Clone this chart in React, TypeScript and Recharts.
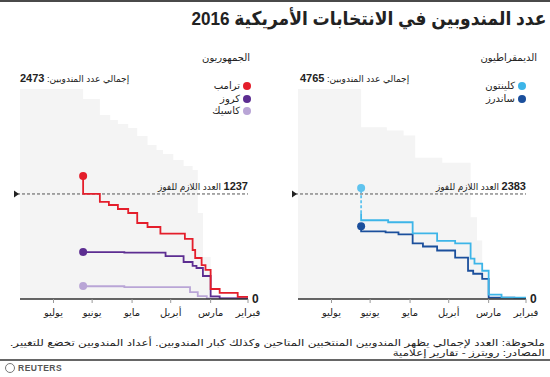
import React from "react";
import { ComposedChart, Area, Line, XAxis, YAxis, ReferenceLine } from "recharts";

// أيام منذ 1 فبراير 2016
const monthTicks = [0, 29, 60, 90, 121, 151];
const monthNames = ["فبراير", "مارس", "أبريل", "مايو", "يونيو", "يوليو"];
const dayMax = 177;

// الجمهوريون
const repTotal = 2473;
const repNeeded = 1237;
const repGreyDays = [0, 29, 35, 39, 43, 50, 58, 66, 71, 78, 86, 93, 101, 107, 115, 128, 177];
const repGreyVals = [0, 495, 1013, 1520, 1567, 1637, 1708, 1755, 1814, 1920, 2014, 2061, 2108, 2167, 2355, 2473, 2473];
const trumpDays = [0, 8, 22, 29, 33, 36, 41, 43, 49, 68, 78, 86, 93, 101, 108, 115, 128];
const trumpVals = [24, 71, 118, 342, 400, 483, 577, 707, 770, 848, 895, 1013, 1060, 1107, 1143, 1237, 1449];
const cruzDays = [0, 22, 29, 35, 40, 43, 50, 64, 96, 128];
const cruzVals = [8, 30, 271, 365, 389, 436, 506, 545, 553, 553];
const kasichDays = [0, 32, 39, 45, 96, 128];
const kasichVals = [8, 35, 82, 141, 150, 153];

// الديمقراطيون
const demTotal = 4765;
const demNeeded = 2383;
const demGreyDays = [0, 30, 34, 38, 43, 65, 86, 95, 108, 128, 177];
const demGreyVals = [0, 641, 1329, 1856, 3093, 3207, 3711, 3826, 3895, 4765, 4765];
const clintonDays = [0, 19, 29, 34, 40, 43, 55, 69, 88, 107, 128];
const clintonVals = [30, 100, 641, 802, 916, 1260, 1320, 1489, 1741, 1787, 1947];
const clintonSuperDays = [128, 128];
const clintonSuperVals = [1947, 2520];
const sandersDays = [0, 9, 29, 34, 41, 45, 55, 69, 80, 88, 99, 109, 128];
const sandersVals = [5, 30, 458, 573, 641, 939, 1100, 1191, 1260, 1466, 1512, 1535, 1650];

const FONT = 'Arial, "Liberation Sans", "DejaVu Sans", sans-serif';

const zip = (days: number[], vals: number[]) => days.map((d, i) => ({ day: d, v: vals[i] }));

const MonthTick = (props: any) => {
  const { x, y, payload } = props;
  const i = monthTicks.indexOf(payload.value);
  return (
    <text x={x} y={y} dy={11} textAnchor="middle" fontSize={10} fill="#222" fontFamily={FONT}>
      {monthNames[i]}
    </text>
  );
};

const ZeroTick = (props: any) => {
  const { x, y } = props;
  return (
    <text x={x} y={y} dx={-4} dy={4} textAnchor="start" fontSize={12} fontWeight="bold" fill="#222" fontFamily={FONT}>
      0
    </text>
  );
};

const endDot = (color: string, last: number) => (props: any) => {
  const { cx, cy, index } = props;
  if (index !== last) return <g key={`d-${index}`} />;
  return <circle key={`d-${index}`} cx={cx} cy={cy} r={4} fill={color} stroke="none" />;
};

const neededShape = (needed: number) => (props: any) => {
  const { x1, x2, y1 } = props;
  const xs = Math.min(x1, x2) - 3;
  const xe = Math.max(x1, x2);
  return (
    <g>
      <line x1={xs} y1={y1} x2={xe} y2={y1} stroke="#555" strokeDasharray="3 2" strokeWidth={1} />
      <path d={`M${xs - 3},${y1 - 3.5} L${xs + 2},${y1} L${xs - 3},${y1 + 3.5} Z`} fill="#222" />
      <text x={xe} y={y1 - 4} textAnchor="end" fontSize={11} fontWeight="bold" fill="#222" fontFamily={FONT}>
        {needed}
      </text>
      <text x={xe - 27} y={y1 - 4} textAnchor="end" fontSize={9} fill="#222" fontFamily={FONT}>
        العدد اللازم للفوز
      </text>
    </g>
  );
};

interface Series {
  name: string;
  color: string;
  data: { day: number; v: number }[];
  dash?: boolean;
  noDot?: boolean;
}

interface PanelProps {
  total: number;
  needed: number;
  grey: { day: number; v: number }[];
  series: Series[];
  marginLeft: number;
  marginRight: number;
}

const Panel = ({ total, needed, grey, series, marginLeft, marginRight }: PanelProps) => (
  <ComposedChart
    width={275}
    height={330}
    margin={{ top: 89, right: marginRight, bottom: 6, left: marginLeft }}
  >
    <XAxis
      type="number"
      dataKey="day"
      domain={[0, dayMax]}
      reversed
      allowDataOverflow
      ticks={monthTicks}
      tick={<MonthTick />}
      tickSize={4}
      height={25}
      axisLine={{ stroke: "#333", strokeWidth: 1.5 }}
      tickLine={{ stroke: "#999" }}
    />
    <YAxis
      orientation="right"
      type="number"
      domain={[0, total]}
      ticks={[0]}
      width={20}
      axisLine={false}
      tickLine={false}
      tick={<ZeroTick />}
      allowDataOverflow
    />
    <Area
      data={grey}
      dataKey="v"
      type="stepAfter"
      fill="#f4f4f4"
      fillOpacity={1}
      stroke="none"
      isAnimationActive={false}
    />
    <ReferenceLine y={needed} shape={neededShape(needed)} />
    {series.map((s) => (
      <Line
        key={s.name + (s.dash ? "-d" : "")}
        data={s.data}
        dataKey="v"
        name={s.name}
        type={s.dash ? "linear" : "stepAfter"}
        stroke={s.color}
        strokeWidth={1.8}
        strokeDasharray={s.dash ? "3 2" : undefined}
        dot={s.noDot ? false : endDot(s.color, s.data.length - 1)}
        activeDot={false}
        isAnimationActive={false}
      />
    ))}
  </ComposedChart>
);

const LegendBox = ({ items, right }: { items: { name: string; color: string }[]; right: number }) => (
  <div style={{ position: "absolute", top: 80, right, fontSize: 10, lineHeight: "12.5px" }}>
    {items.map((it) => (
      <div key={it.name} dir="rtl" style={{ display: "flex", alignItems: "center", gap: 3 }}>
        <span style={{ width: 8, height: 8, borderRadius: 4, background: it.color, display: "inline-block" }} />
        <span>{it.name}</span>
      </div>
    ))}
  </div>
);

const App = () => {
  const repSeries: Series[] = [
    { name: "كاسيك", color: "#b9a5d6", data: zip(kasichDays, kasichVals) },
    { name: "كروز", color: "#5c2d91", data: zip(cruzDays, cruzVals) },
    { name: "ترامب", color: "#e41e2b", data: zip(trumpDays, trumpVals) },
  ];
  const demSeries: Series[] = [
    { name: "ساندرز", color: "#1b4f9c", data: zip(sandersDays, sandersVals) },
    { name: "كلينتون", color: "#3db5e8", data: zip(clintonDays, clintonVals), noDot: true },
    { name: "كلينتون", color: "#5fc3ee", data: zip(clintonSuperDays, clintonSuperVals), dash: true },
  ];
  return (
    <div
      style={{
        position: "absolute",
        left: 0,
        top: 0,
        width: 550,
        height: 377,
        background: "#fff",
        fontFamily: FONT,
        color: "#222",
        overflow: "hidden",
      }}
    >
      <div style={{ position: "absolute", left: 0, top: 0, width: 550, height: 2, background: "#4a4a4a" }} />
      <div
        dir="rtl"
        style={{
          position: "absolute",
          right: 4,
          top: 7,
          fontSize: 19,
          fontWeight: "bold",
          whiteSpace: "nowrap",
          transform: "scaleX(0.9)",
          transformOrigin: "right center",
        }}
      >
        عدد المندوبين في الانتخابات الأمريكية 2016
      </div>

      <div dir="rtl" style={{ position: "absolute", right: 300, top: 52, fontSize: 10 }}>
        الجمهوريون
      </div>
      <div dir="rtl" style={{ position: "absolute", right: 13, top: 52, fontSize: 10 }}>
        الديمقراطيون
      </div>

      <div style={{ position: "absolute", left: 0, top: 0 }}>
        <Panel
          total={repTotal}
          needed={repNeeded}
          grey={zip(repGreyDays, repGreyVals)}
          series={repSeries}
          marginLeft={20}
          marginRight={7}
        />
      </div>
      <div style={{ position: "absolute", left: 275, top: 0 }}>
        <Panel
          total={demTotal}
          needed={demNeeded}
          grey={zip(demGreyDays, demGreyVals)}
          series={demSeries}
          marginLeft={23}
          marginRight={4}
        />
      </div>

      <div dir="rtl" style={{ position: "absolute", left: 20, top: 72, fontSize: 9, whiteSpace: "nowrap" }}>
        إجمالي عدد المندوبين: <b style={{ fontSize: 11 }}>{repTotal}</b>
      </div>
      <div dir="rtl" style={{ position: "absolute", left: 300, top: 72, fontSize: 9, whiteSpace: "nowrap" }}>
        إجمالي عدد المندوبين: <b style={{ fontSize: 11 }}>{demTotal}</b>
      </div>

      <LegendBox
        right={299}
        items={[
          { name: "ترامب", color: "#e41e2b" },
          { name: "كروز", color: "#5c2d91" },
          { name: "كاسيك", color: "#b9a5d6" },
        ]}
      />
      <LegendBox
        right={24}
        items={[
          { name: "كلينتون", color: "#3db5e8" },
          { name: "ساندرز", color: "#1b4f9c" },
        ]}
      />

      <div
        dir="rtl"
        style={{
          position: "absolute",
          right: 5,
          top: 338,
          fontSize: 9.5,
          lineHeight: "10px",
          whiteSpace: "nowrap",
          transform: "scaleX(1.25)",
          transformOrigin: "right center",
        }}
      >
        ملحوظة: العدد لإجمالي يظهر المندوبين المنتخبين المتاحين وكذلك كبار المندوبين. أعداد المندوبين تخضع للتغيير.
        <br />
        المصادر: رويترز - تقارير إعلامية
      </div>
      <div style={{ position: "absolute", left: 0, top: 359, width: 550, height: 2, background: "#666" }} />
      <div style={{ position: "absolute", left: 5, top: 363, display: "flex", alignItems: "center", gap: 3 }}>
        <span
          style={{
            width: 8,
            height: 8,
            borderRadius: 5,
            border: "1px solid #777",
            display: "inline-block",
          }}
        />
        <span style={{ fontSize: 8.5, fontWeight: "bold", color: "#555", letterSpacing: 0.5 }}>REUTERS</span>
      </div>
    </div>
  );
};

export default App;
